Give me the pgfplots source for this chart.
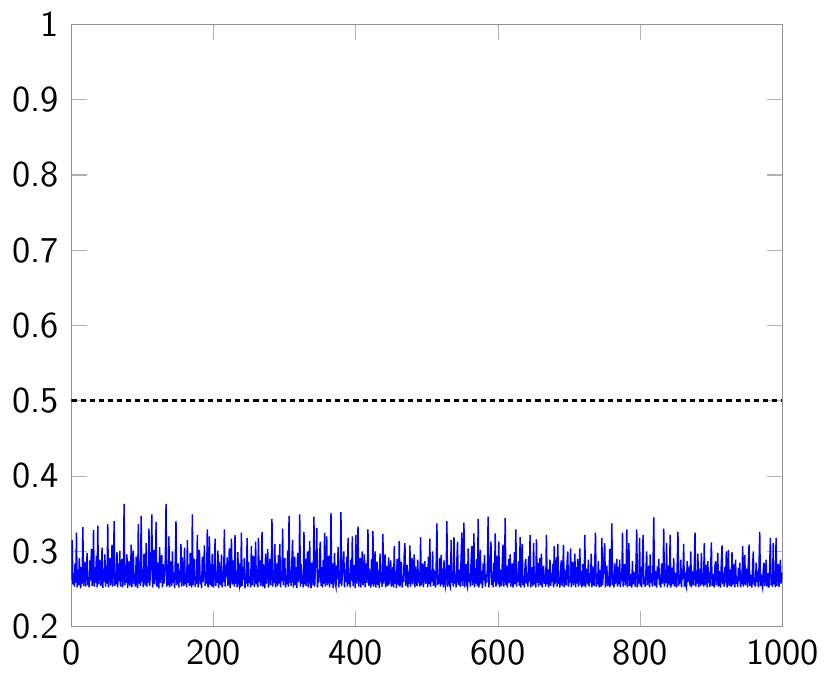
\documentclass[border=0pt]{standalone}
\usepackage{fontspec}
\usepackage{pgfplots}
\usepackage{pgfplotstable}
\pgfplotsset{compat=1.18}

% one value per step, ten steps per line
\pgfplotstableread[row sep=\\, header=false]{
0.262\\ 0.315\\ 0.256\\ 0.271\\ 0.253\\ 0.284\\ 0.258\\ 0.325\\ 0.252\\ 0.276\\
0.255\\ 0.291\\ 0.262\\ 0.251\\ 0.279\\ 0.257\\ 0.332\\ 0.254\\ 0.268\\ 0.286\\
0.253\\ 0.273\\ 0.298\\ 0.255\\ 0.266\\ 0.252\\ 0.288\\ 0.261\\ 0.303\\ 0.254\\
0.270\\ 0.328\\ 0.253\\ 0.279\\ 0.258\\ 0.294\\ 0.252\\ 0.334\\ 0.256\\ 0.271\\
0.289\\ 0.254\\ 0.266\\ 0.305\\ 0.251\\ 0.277\\ 0.259\\ 0.296\\ 0.253\\ 0.282\\
0.257\\ 0.336\\ 0.252\\ 0.270\\ 0.291\\ 0.255\\ 0.264\\ 0.309\\ 0.253\\ 0.278\\
0.340\\ 0.254\\ 0.273\\ 0.256\\ 0.299\\ 0.252\\ 0.284\\ 0.260\\ 0.301\\ 0.253\\
0.275\\ 0.290\\ 0.252\\ 0.268\\ 0.363\\ 0.255\\ 0.281\\ 0.258\\ 0.296\\ 0.251\\
0.273\\ 0.287\\ 0.254\\ 0.265\\ 0.309\\ 0.252\\ 0.279\\ 0.301\\ 0.256\\ 0.270\\
0.253\\ 0.293\\ 0.262\\ 0.251\\ 0.336\\ 0.257\\ 0.283\\ 0.254\\ 0.347\\ 0.259\\
0.276\\ 0.252\\ 0.297\\ 0.264\\ 0.255\\ 0.311\\ 0.253\\ 0.280\\ 0.258\\ 0.330\\
0.254\\ 0.272\\ 0.289\\ 0.349\\ 0.252\\ 0.267\\ 0.302\\ 0.256\\ 0.277\\ 0.339\\
0.253\\ 0.285\\ 0.261\\ 0.251\\ 0.306\\ 0.258\\ 0.274\\ 0.295\\ 0.252\\ 0.283\\
0.257\\ 0.269\\ 0.291\\ 0.363\\ 0.253\\ 0.278\\ 0.255\\ 0.320\\ 0.252\\ 0.287\\
0.263\\ 0.254\\ 0.300\\ 0.258\\ 0.271\\ 0.251\\ 0.289\\ 0.340\\ 0.255\\ 0.268\\
0.284\\ 0.252\\ 0.275\\ 0.259\\ 0.310\\ 0.253\\ 0.292\\ 0.262\\ 0.254\\ 0.305\\
0.256\\ 0.271\\ 0.252\\ 0.315\\ 0.258\\ 0.282\\ 0.254\\ 0.298\\ 0.261\\ 0.252\\
0.349\\ 0.255\\ 0.276\\ 0.290\\ 0.253\\ 0.266\\ 0.257\\ 0.322\\ 0.252\\ 0.280\\
0.302\\ 0.256\\ 0.268\\ 0.251\\ 0.293\\ 0.259\\ 0.275\\ 0.308\\ 0.254\\ 0.270\\
0.257\\ 0.329\\ 0.252\\ 0.265\\ 0.320\\ 0.255\\ 0.283\\ 0.253\\ 0.297\\ 0.260\\
0.252\\ 0.278\\ 0.317\\ 0.254\\ 0.271\\ 0.258\\ 0.301\\ 0.251\\ 0.286\\ 0.263\\
0.255\\ 0.296\\ 0.252\\ 0.274\\ 0.259\\ 0.329\\ 0.253\\ 0.281\\ 0.266\\ 0.292\\
0.254\\ 0.269\\ 0.304\\ 0.251\\ 0.277\\ 0.317\\ 0.256\\ 0.263\\ 0.288\\ 0.253\\
0.322\\ 0.257\\ 0.272\\ 0.252\\ 0.299\\ 0.260\\ 0.255\\ 0.284\\ 0.252\\ 0.325\\
0.254\\ 0.279\\ 0.262\\ 0.291\\ 0.251\\ 0.270\\ 0.257\\ 0.318\\ 0.253\\ 0.286\\
0.258\\ 0.267\\ 0.252\\ 0.307\\ 0.255\\ 0.281\\ 0.294\\ 0.253\\ 0.264\\ 0.313\\
0.256\\ 0.276\\ 0.252\\ 0.318\\ 0.259\\ 0.288\\ 0.254\\ 0.270\\ 0.326\\ 0.253\\
0.283\\ 0.261\\ 0.251\\ 0.297\\ 0.257\\ 0.273\\ 0.303\\ 0.252\\ 0.266\\ 0.290\\
0.255\\ 0.278\\ 0.343\\ 0.253\\ 0.269\\ 0.258\\ 0.310\\ 0.252\\ 0.284\\ 0.262\\
0.254\\ 0.295\\ 0.257\\ 0.310\\ 0.252\\ 0.274\\ 0.260\\ 0.330\\ 0.255\\ 0.280\\
0.291\\ 0.252\\ 0.268\\ 0.256\\ 0.301\\ 0.253\\ 0.347\\ 0.258\\ 0.275\\ 0.254\\
0.287\\ 0.315\\ 0.252\\ 0.264\\ 0.293\\ 0.255\\ 0.279\\ 0.251\\ 0.298\\ 0.259\\
0.270\\ 0.349\\ 0.253\\ 0.283\\ 0.257\\ 0.266\\ 0.252\\ 0.326\\ 0.256\\ 0.290\\
0.254\\ 0.277\\ 0.300\\ 0.252\\ 0.268\\ 0.314\\ 0.258\\ 0.251\\ 0.285\\ 0.263\\
0.255\\ 0.346\\ 0.253\\ 0.274\\ 0.292\\ 0.331\\ 0.252\\ 0.267\\ 0.259\\ 0.296\\
0.313\\ 0.254\\ 0.279\\ 0.252\\ 0.288\\ 0.257\\ 0.325\\ 0.253\\ 0.271\\ 0.320\\
0.255\\ 0.266\\ 0.294\\ 0.252\\ 0.276\\ 0.351\\ 0.256\\ 0.284\\ 0.251\\ 0.269\\
0.298\\ 0.258\\ 0.253\\ 0.281\\ 0.263\\ 0.306\\ 0.252\\ 0.273\\ 0.257\\ 0.352\\
0.254\\ 0.268\\ 0.286\\ 0.300\\ 0.252\\ 0.276\\ 0.259\\ 0.293\\ 0.253\\ 0.318\\
0.256\\ 0.271\\ 0.252\\ 0.289\\ 0.261\\ 0.320\\ 0.254\\ 0.265\\ 0.282\\ 0.251\\
0.322\\ 0.257\\ 0.274\\ 0.333\\ 0.253\\ 0.268\\ 0.291\\ 0.252\\ 0.279\\ 0.300\\
0.255\\ 0.263\\ 0.296\\ 0.252\\ 0.284\\ 0.258\\ 0.270\\ 0.329\\ 0.254\\ 0.277\\
0.261\\ 0.252\\ 0.290\\ 0.256\\ 0.327\\ 0.253\\ 0.272\\ 0.300\\ 0.252\\ 0.266\\
0.286\\ 0.255\\ 0.275\\ 0.251\\ 0.297\\ 0.259\\ 0.267\\ 0.253\\ 0.323\\ 0.257\\
0.272\\ 0.296\\ 0.252\\ 0.281\\ 0.260\\ 0.254\\ 0.292\\ 0.256\\ 0.270\\ 0.288\\
0.253\\ 0.265\\ 0.279\\ 0.252\\ 0.307\\ 0.257\\ 0.274\\ 0.251\\ 0.290\\ 0.262\\
0.255\\ 0.314\\ 0.253\\ 0.276\\ 0.286\\ 0.252\\ 0.268\\ 0.259\\ 0.295\\ 0.311\\
0.254\\ 0.271\\ 0.282\\ 0.252\\ 0.264\\ 0.257\\ 0.308\\ 0.253\\ 0.277\\ 0.291\\
0.256\\ 0.268\\ 0.296\\ 0.252\\ 0.280\\ 0.260\\ 0.254\\ 0.289\\ 0.258\\ 0.273\\
0.253\\ 0.319\\ 0.255\\ 0.266\\ 0.284\\ 0.252\\ 0.271\\ 0.287\\ 0.257\\ 0.263\\
0.279\\ 0.252\\ 0.293\\ 0.256\\ 0.317\\ 0.253\\ 0.270\\ 0.259\\ 0.300\\ 0.254\\
0.275\\ 0.262\\ 0.252\\ 0.285\\ 0.337\\ 0.255\\ 0.268\\ 0.257\\ 0.291\\ 0.253\\
0.295\\ 0.256\\ 0.277\\ 0.252\\ 0.288\\ 0.260\\ 0.254\\ 0.271\\ 0.340\\ 0.253\\
0.266\\ 0.282\\ 0.255\\ 0.252\\ 0.315\\ 0.258\\ 0.274\\ 0.253\\ 0.319\\ 0.257\\
0.269\\ 0.252\\ 0.287\\ 0.313\\ 0.255\\ 0.276\\ 0.260\\ 0.253\\ 0.292\\ 0.325\\
0.254\\ 0.273\\ 0.338\\ 0.252\\ 0.265\\ 0.283\\ 0.256\\ 0.252\\ 0.304\\ 0.259\\
0.271\\ 0.253\\ 0.286\\ 0.307\\ 0.255\\ 0.262\\ 0.324\\ 0.252\\ 0.278\\ 0.257\\
0.290\\ 0.254\\ 0.343\\ 0.252\\ 0.268\\ 0.302\\ 0.256\\ 0.274\\ 0.251\\ 0.284\\
0.261\\ 0.295\\ 0.253\\ 0.270\\ 0.258\\ 0.280\\ 0.346\\ 0.252\\ 0.266\\ 0.289\\
0.313\\ 0.255\\ 0.273\\ 0.252\\ 0.285\\ 0.259\\ 0.324\\ 0.253\\ 0.267\\ 0.294\\
0.256\\ 0.313\\ 0.252\\ 0.276\\ 0.262\\ 0.254\\ 0.288\\ 0.309\\ 0.253\\ 0.270\\
0.344\\ 0.255\\ 0.281\\ 0.252\\ 0.267\\ 0.290\\ 0.258\\ 0.296\\ 0.253\\ 0.274\\
0.284\\ 0.252\\ 0.263\\ 0.299\\ 0.256\\ 0.329\\ 0.253\\ 0.271\\ 0.259\\ 0.287\\
0.254\\ 0.319\\ 0.252\\ 0.277\\ 0.310\\ 0.255\\ 0.266\\ 0.252\\ 0.283\\ 0.290\\
0.257\\ 0.272\\ 0.253\\ 0.294\\ 0.260\\ 0.322\\ 0.252\\ 0.279\\ 0.265\\ 0.254\\
0.311\\ 0.256\\ 0.270\\ 0.252\\ 0.316\\ 0.258\\ 0.285\\ 0.253\\ 0.274\\ 0.291\\
0.255\\ 0.297\\ 0.252\\ 0.268\\ 0.281\\ 0.257\\ 0.263\\ 0.253\\ 0.322\\ 0.256\\
0.276\\ 0.252\\ 0.265\\ 0.289\\ 0.254\\ 0.271\\ 0.259\\ 0.283\\ 0.252\\ 0.307\\
0.256\\ 0.274\\ 0.292\\ 0.253\\ 0.310\\ 0.257\\ 0.266\\ 0.252\\ 0.279\\ 0.288\\
0.254\\ 0.270\\ 0.309\\ 0.252\\ 0.276\\ 0.261\\ 0.255\\ 0.284\\ 0.300\\ 0.253\\
0.268\\ 0.258\\ 0.304\\ 0.252\\ 0.273\\ 0.286\\ 0.255\\ 0.263\\ 0.297\\ 0.252\\
0.279\\ 0.257\\ 0.290\\ 0.253\\ 0.269\\ 0.304\\ 0.255\\ 0.274\\ 0.252\\ 0.283\\
0.261\\ 0.254\\ 0.322\\ 0.252\\ 0.277\\ 0.266\\ 0.256\\ 0.289\\ 0.253\\ 0.271\\
0.258\\ 0.297\\ 0.252\\ 0.280\\ 0.264\\ 0.254\\ 0.285\\ 0.325\\ 0.253\\ 0.269\\
0.256\\ 0.287\\ 0.252\\ 0.275\\ 0.260\\ 0.253\\ 0.318\\ 0.255\\ 0.271\\ 0.293\\
0.311\\ 0.252\\ 0.267\\ 0.281\\ 0.254\\ 0.262\\ 0.258\\ 0.303\\ 0.253\\ 0.276\\
0.337\\ 0.255\\ 0.270\\ 0.252\\ 0.284\\ 0.257\\ 0.266\\ 0.290\\ 0.253\\ 0.279\\
0.256\\ 0.289\\ 0.252\\ 0.272\\ 0.260\\ 0.325\\ 0.253\\ 0.268\\ 0.283\\ 0.255\\
0.264\\ 0.329\\ 0.252\\ 0.276\\ 0.311\\ 0.254\\ 0.270\\ 0.258\\ 0.252\\ 0.287\\
0.256\\ 0.273\\ 0.262\\ 0.253\\ 0.284\\ 0.329\\ 0.252\\ 0.268\\ 0.257\\ 0.318\\
0.254\\ 0.279\\ 0.252\\ 0.290\\ 0.322\\ 0.256\\ 0.265\\ 0.253\\ 0.275\\ 0.300\\
0.255\\ 0.268\\ 0.281\\ 0.252\\ 0.296\\ 0.258\\ 0.271\\ 0.253\\ 0.286\\ 0.345\\
0.254\\ 0.274\\ 0.259\\ 0.252\\ 0.280\\ 0.263\\ 0.290\\ 0.255\\ 0.269\\ 0.252\\
0.284\\ 0.257\\ 0.266\\ 0.330\\ 0.253\\ 0.275\\ 0.258\\ 0.311\\ 0.252\\ 0.270\\
0.281\\ 0.255\\ 0.322\\ 0.252\\ 0.264\\ 0.278\\ 0.256\\ 0.291\\ 0.253\\ 0.271\\
0.260\\ 0.252\\ 0.285\\ 0.326\\ 0.254\\ 0.268\\ 0.257\\ 0.289\\ 0.252\\ 0.276\\
0.263\\ 0.310\\ 0.253\\ 0.272\\ 0.256\\ 0.252\\ 0.287\\ 0.259\\ 0.267\\ 0.280\\
0.254\\ 0.300\\ 0.252\\ 0.274\\ 0.262\\ 0.255\\ 0.283\\ 0.325\\ 0.253\\ 0.269\\
0.257\\ 0.297\\ 0.252\\ 0.277\\ 0.264\\ 0.254\\ 0.298\\ 0.256\\ 0.271\\ 0.253\\
0.311\\ 0.255\\ 0.268\\ 0.282\\ 0.252\\ 0.287\\ 0.258\\ 0.265\\ 0.253\\ 0.276\\
0.312\\ 0.254\\ 0.270\\ 0.259\\ 0.252\\ 0.281\\ 0.287\\ 0.255\\ 0.266\\ 0.298\\
0.253\\ 0.274\\ 0.261\\ 0.252\\ 0.285\\ 0.308\\ 0.256\\ 0.270\\ 0.253\\ 0.279\\
0.258\\ 0.300\\ 0.252\\ 0.267\\ 0.302\\ 0.254\\ 0.276\\ 0.259\\ 0.253\\ 0.299\\
0.255\\ 0.272\\ 0.283\\ 0.252\\ 0.289\\ 0.257\\ 0.266\\ 0.253\\ 0.278\\ 0.260\\
0.285\\ 0.252\\ 0.271\\ 0.256\\ 0.307\\ 0.253\\ 0.268\\ 0.295\\ 0.255\\ 0.262\\
0.277\\ 0.252\\ 0.286\\ 0.309\\ 0.254\\ 0.269\\ 0.258\\ 0.252\\ 0.281\\ 0.300\\
0.255\\ 0.265\\ 0.253\\ 0.285\\ 0.259\\ 0.274\\ 0.252\\ 0.279\\ 0.326\\ 0.254\\
0.270\\ 0.257\\ 0.252\\ 0.276\\ 0.285\\ 0.254\\ 0.263\\ 0.289\\ 0.253\\ 0.271\\
0.258\\ 0.252\\ 0.280\\ 0.318\\ 0.255\\ 0.267\\ 0.253\\ 0.311\\ 0.256\\ 0.274\\
0.252\\ 0.318\\ 0.254\\ 0.270\\ 0.283\\ 0.253\\ 0.264\\ 0.289\\ 0.257\\ 0.272\\
0.262\\
}\signal

\begin{document}
\begin{tikzpicture}
\begin{axis}[
    scale only axis,
    width=195.4pt,
    height=165.5pt,
    xmin=0, xmax=1000,
    ymin=0.2, ymax=1,
    xtick={0,200,400,600,800,1000},
    ytick={0.2,0.3,0.4,0.5,0.6,0.7,0.8,0.9,1},
    axis line style={gray!85, line width=0.4pt},
    tick style={gray!60, line width=0.3pt},
    tick label style={font=\sffamily},
    /pgf/number format/assume math mode=true,
    /pgf/number format/1000 sep={},
]
\addplot[blue, line width=0.4pt] table[x expr=\coordindex, y index=0] {\signal};
\addplot[black, line width=0.8pt, dash pattern=on 1.4pt off 1.1pt] coordinates {
    (0,0.5)
    (1000,0.5)
};
\end{axis}
\end{tikzpicture}
\end{document}
